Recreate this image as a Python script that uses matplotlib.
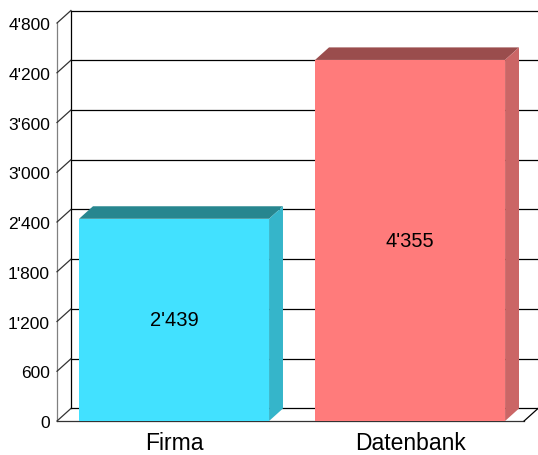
import matplotlib
matplotlib.use("Agg")
import matplotlib.pyplot as plt
from matplotlib.patches import Polygon

plt.rcParams['font.family'] = ['Liberation Sans', 'DejaVu Sans']

categories = ['Firma', 'Datenbank']
values = [2439, 4355]
front_colors = ['#42e1ff', '#ff7b7b']
top_colors = ['#27868f', '#9a4d4d']
side_colors = ['#35b5ca', '#cb6666']
ticks = [0, 600, 1200, 1800, 2400, 3000, 3600, 4200, 4800]

DX, DY = 0.059, 151     # depth of the 3D effect in data units
width = 0.805
x0, x1 = -0.496, 1.542


def fmt(v):
    return f"{v:,}".replace(",", "'")


fig = plt.figure(figsize=(5.38, 4.56), dpi=100)
ax = fig.add_axes([57 / 538, 34 / 456, 481 / 538, 410.5 / 456])
ax.set_xlim(x0, x1)
ax.set_ylim(0, ticks[-1] + DY)
for s in ax.spines.values():
    s.set_visible(False)

# walls
lw = 0.9
ax.plot([x0, x0], [0, ticks[-1]], color='#808080', lw=lw, clip_on=False)
ax.plot([x0 + DX, x0 + DX], [DY, ticks[-1] + DY], color='black', lw=lw, clip_on=False)
for t in ticks:
    ax.plot([x0, x0 + DX], [t, t + DY], color='#333333', lw=lw, clip_on=False)
    ax.plot([x0 + DX, x1], [t + DY, t + DY], color='black', lw=lw, clip_on=False)
# floor
ax.plot([x0, x1 - DX], [0, 0], color='#333333', lw=lw, clip_on=False)
ax.plot([x1 - DX, x1], [0, DY], color='black', lw=lw, clip_on=False)

# bars
for i, (v, fc, tc, sc) in enumerate(zip(values, front_colors, top_colors, side_colors)):
    l, r = i - width / 2, i + width / 2
    ax.add_patch(Polygon([(l, v), (l + DX, v + DY), (r + DX, v + DY), (r, v)],
                         closed=True, facecolor=tc, edgecolor='none', zorder=3))
    ax.add_patch(Polygon([(r, 0), (r + DX, DY), (r + DX, v + DY), (r, v)],
                         closed=True, facecolor=sc, edgecolor='none', zorder=3))
    ax.bar(i, v, width=width, color=fc, zorder=4)
    ax.text(i, v / 2, fmt(v), ha='center', va='center', fontsize=14.5, zorder=5)

ax.set_yticks(ticks)
ax.set_yticklabels([fmt(t) for t in ticks], fontsize=12.5)
ax.set_xticks(range(len(categories)))
ax.set_xticklabels(categories, fontsize=16.5)
ax.tick_params(axis='y', length=0, pad=5)
ax.tick_params(axis='x', length=0, pad=7)

fig.savefig("out.png", dpi=100)
